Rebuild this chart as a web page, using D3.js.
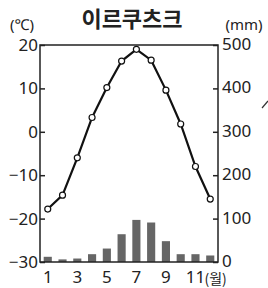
<!DOCTYPE html>
<html>
<head>
<meta charset="utf-8">
<script src="https://d3js.org/d3.v7.min.js"></script>
<style>
  body { margin: 0; background: #fff; }
  text { font-family: "Noto Sans CJK KR", "Noto Sans", sans-serif; fill: #222; }
  .num { font-family: "Noto Sans", "Liberation Sans", sans-serif; }
</style>
</head>
<body>
<div id="chart"></div>
<script>
// data
var months = [1, 2, 3, 4, 5, 6, 7, 8, 9, 10, 11, 12];
var temps = [-17.8, -14.6, -6, 3.3, 10.2, 16.3, 19, 16.5, 9.6, 1.8, -8, -15.5];
var precip = [12, 6, 8, 18, 31, 64, 97, 91, 48, 18, 18, 15];
var tempTicks = [20, 10, 0, -10, -20, -30];
var precipTicks = [500, 400, 300, 200, 100, 0];
var monthLabels = [1, 3, 5, 7, 9, 11];

var W = 268, H = 288;
var mLeft = 40, mRight = 218, mTop = 45, mBottom = 262;

var svg = d3.select("#chart").append("svg")
  .attr("width", W).attr("height", H);

var x = d3.scaleBand().domain(months).range([mLeft, mRight])
  .paddingInner(0.45).paddingOuter(0.25);
var yT = d3.scaleLinear().domain([-30, 20]).range([mBottom, mTop]);
var yP = d3.scaleLinear().domain([0, 500]).range([mBottom, mTop]);

// title and units
svg.append("text").attr("x", 132).attr("y", 27).attr("text-anchor", "middle")
  .style("font-size", "22px").style("font-weight", "bold").text("이르쿠츠크");
svg.append("text").attr("class", "num").attr("x", 22).attr("y", 30).attr("text-anchor", "middle")
  .style("font-size", "15px").text("(℃)");
svg.append("text").attr("class", "num").attr("x", 244).attr("y", 30).attr("text-anchor", "middle")
  .style("font-size", "15px").text("(mm)");

// bars
svg.selectAll("rect.bar").data(precip).enter().append("rect")
  .attr("class", "bar")
  .attr("x", function(d, i){ return x(months[i]); })
  .attr("y", function(d){ return yP(d); })
  .attr("width", x.bandwidth())
  .attr("height", function(d){ return mBottom - yP(d); })
  .style("fill", "#666");

// frame
svg.append("rect").attr("x", mLeft).attr("y", mTop)
  .attr("width", mRight - mLeft).attr("height", mBottom - mTop)
  .style("fill", "none").style("stroke", "#222").style("stroke-width", 1.5);

// left axis (ticks inside)
var la = svg.append("g").attr("transform", "translate(" + mLeft + ",0)")
  .call(d3.axisRight(yT).tickValues(tempTicks).tickSize(5).tickFormat(""));
la.select(".domain").remove();
la.selectAll("line").style("stroke", "#222").style("stroke-width", 1.5);
tempTicks.forEach(function(t){
  svg.append("text").attr("class", "num").attr("x", 38).attr("y", yT(t) + 6)
    .attr("text-anchor", "end")
    .style("font-size", "17px").text(t < 0 ? "\u2212" + (-t) : t);
});

// right axis (ticks inside)
var ra = svg.append("g").attr("transform", "translate(" + mRight + ",0)")
  .call(d3.axisLeft(yP).tickValues(precipTicks).tickSize(5).tickFormat(""));
ra.select(".domain").remove();
ra.selectAll("line").style("stroke", "#222").style("stroke-width", 1.5);
precipTicks.forEach(function(t){
  svg.append("text").attr("class", "num").attr("x", 222).attr("y", yP(t) + 5)
    .style("font-size", "17px").text(t);
});

// month labels
monthLabels.forEach(function(m){
  svg.append("text").attr("class", "num").attr("x", x(m) + x.bandwidth() / 2).attr("y", 283)
    .attr("text-anchor", "middle").style("font-size", "17px").text(m);
});
svg.append("text").attr("x", x(11) + x.bandwidth() / 2 + 9).attr("y", 284)
  .style("font-size", "14px").text("(월)");

// temperature line
var line = d3.line()
  .x(function(d, i){ return x(months[i]) + x.bandwidth() / 2; })
  .y(function(d){ return yT(d); });
svg.append("path").datum(temps).attr("d", line)
  .style("fill", "none").style("stroke", "#111").style("stroke-width", 2.2);
svg.selectAll("circle.pt").data(temps).enter().append("circle")
  .attr("class", "pt")
  .attr("cx", function(d, i){ return x(months[i]) + x.bandwidth() / 2; })
  .attr("cy", function(d){ return yT(d); })
  .attr("r", 3)
  .style("fill", "#fff").style("stroke", "#111").style("stroke-width", 1.2);

// stray mark at right edge
svg.append("line").attr("x1", 262).attr("y1", 108).attr("x2", 268).attr("y2", 101)
  .style("stroke", "#333").style("stroke-width", 1.2);
</script>
</body>
</html>
